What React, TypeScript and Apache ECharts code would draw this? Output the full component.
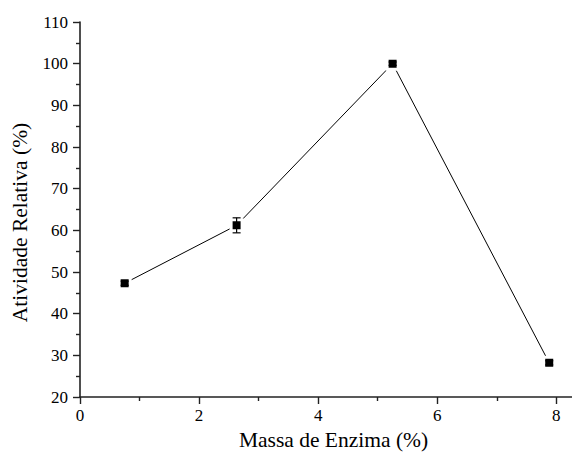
import React, { useEffect, useRef } from "react";
import * as echarts from "echarts";

const massa = [0.75, 2.63, 5.25, 7.88];
const atividade = [47.3, 61.2, 100, 28.2];
const erro = [0.5, 1.8, 0.4, 0.5];
const xMajorTicks = [0, 2, 4, 6, 8];
const xMinorTicks = [1, 3, 5, 7];
const xTitle = "Massa de Enzima (%)";
const yTitle = "Atividade Relativa (%)";

const FONT = "Liberation Serif";

export default function App() {
  const ref = useRef<HTMLDivElement>(null);
  useEffect(() => {
    if (!ref.current) return;
    const chart = echarts.init(ref.current, null, { renderer: "svg" });
    const pts = massa.map((x, i) => [x, atividade[i], erro[i]]);
    chart.setOption({
      animation: false,
      backgroundColor: "#fff",
      grid: { left: 72, right: 1, top: 14, bottom: 62, containLabel: false, outerBoundsMode: "none" },
      xAxis: [
        {
          type: "value",
          min: 0,
          max: 8.38,
          position: "bottom",
          name: xTitle,
          nameLocation: "middle",
          nameGap: 29,
          nameTextStyle: { fontFamily: FONT, fontSize: 21.5, color: "#000", padding: [0, 0, 0, 8] },
          axisLine: { show: true, lineStyle: { color: "#222", width: 1.6 } },
          axisTick: { show: true, customValues: xMajorTicks, length: 7, lineStyle: { color: "#222", width: 1.4 } },
          axisLabel: { customValues: xMajorTicks, margin: 10, fontFamily: FONT, fontSize: 17, color: "#000" },
          splitLine: { show: false },
        },
        {
          type: "value",
          min: 0,
          max: 8.38,
          position: "bottom",
          axisLine: { show: false },
          axisTick: { show: true, customValues: xMinorTicks, length: 4, lineStyle: { color: "#222", width: 1.4 } },
          axisLabel: { show: false },
          splitLine: { show: false },
        },
      ],
      yAxis: {
        type: "value",
        min: 20,
        max: 110,
        interval: 10,
        name: yTitle,
        nameLocation: "middle",
        nameGap: 49,
        nameTextStyle: { fontFamily: FONT, fontSize: 21.5, color: "#000", padding: [0, 26, 0, 0] },
        axisLine: { show: true, lineStyle: { color: "#222", width: 1.6 } },
        axisTick: { show: true, length: 7, lineStyle: { color: "#222", width: 1.4 } },
        minorTick: { show: true, splitNumber: 2, length: 4, lineStyle: { color: "#222", width: 1.4 } },
        axisLabel: { margin: 12, fontFamily: FONT, fontSize: 17, color: "#000" },
        splitLine: { show: false },
      },
      series: [
        {
          type: "line",
          xAxisIndex: 0,
          data: pts.map((p) => [p[0], p[1]]),
          symbol: "rect",
          symbolSize: 11,
          lineStyle: { color: "#000", width: 1 },
          itemStyle: { color: "#000", borderColor: "#fff", borderWidth: 3 },
          z: 2,
        },
        {
          type: "custom",
          xAxisIndex: 0,
          data: pts,
          z: 3,
          renderItem: (params: any, api: any) => {
            const x = api.value(0);
            const y = api.value(1);
            const e = api.value(2);
            const top = api.coord([x, y + e]);
            const bot = api.coord([x, y - e]);
            const w = 4;
            const st = { stroke: "#000", lineWidth: 1.2 };
            return {
              type: "group",
              children: [
                { type: "line", shape: { x1: top[0], y1: top[1], x2: bot[0], y2: bot[1] }, style: st },
                { type: "line", shape: { x1: top[0] - w, y1: top[1], x2: top[0] + w, y2: top[1] }, style: st },
                { type: "line", shape: { x1: bot[0] - w, y1: bot[1], x2: bot[0] + w, y2: bot[1] }, style: st },
              ],
            };
          },
        },
      ],
    });
    return () => chart.dispose();
  }, []);
  return <div ref={ref} style={{ width: 572, height: 451 }} />;
}
